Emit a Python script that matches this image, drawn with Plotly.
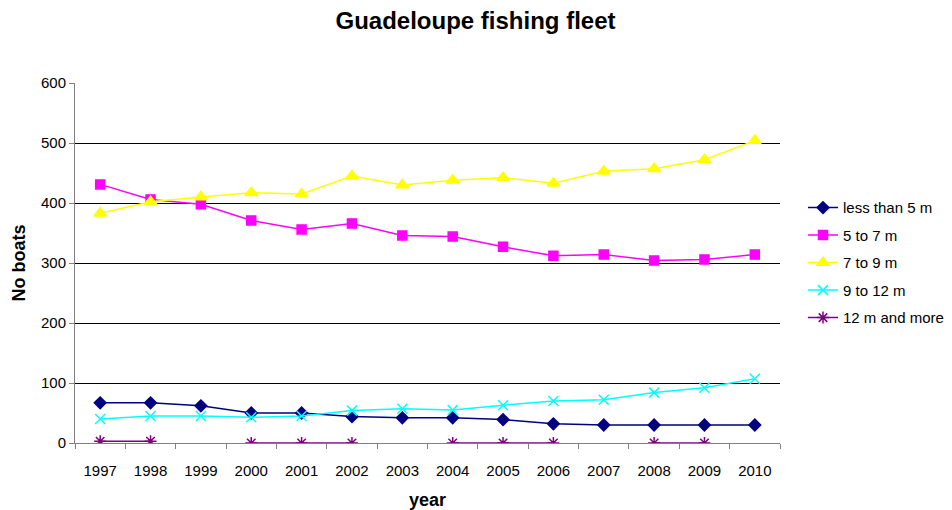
import plotly.graph_objects as go

years = ["1997", "1998", "1999", "2000", "2001", "2002", "2003", "2004", "2005", "2006", "2007", "2008", "2009", "2010"]
less_than_5 = [67, 67, 62, 50, 50, 44, 42, 42, 39, 32, 30, 30, 30, 30]
from_5_to_7 = [431, 406, 398, 371, 356, 366, 346, 344, 327, 312, 314, 304, 306, 314]
from_7_to_9 = [383, 402, 410, 417, 415, 445, 430, 438, 442, 433, 453, 457, 472, 504]
from_9_to_12 = [40, 45, 45, 43, 45, 54, 57, 55, 63, 70, 72, 84, 92, 107]
m12_and_more = [3, 3, None, 0, 0, 0, None, 0, 0, 0, None, 0, 0, None]

series = [
    ("less than 5 m", less_than_5, "#000080", "diamond", 9),
    ("5 to 7 m", from_5_to_7, "#FF00FF", "square", 9),
    ("7 to 9 m", from_7_to_9, "#FFFF00", "triangle-up", 11),
    ("9 to 12 m", from_9_to_12, "#00FFFF", "x-thin-open", 10),
    ("12 m and more", m12_and_more, "#800080", "asterisk-open", 10),
]

fig = go.Figure()
for name, vals, color, sym, size in series:
    fig.add_trace(go.Scatter(
        x=years, y=vals, name=name, mode="lines+markers",
        connectgaps=False, legendgroup=name,
        line=dict(color=color, width=1.5),
        marker=dict(symbol=sym, size=size, color=color,
                    line=dict(color=color, width=1.5)),
    ))

fig.update_layout(
    width=968, height=510,
    margin=dict(l=67, r=196, t=75, b=75, autoexpand=False),
    paper_bgcolor="white", plot_bgcolor="white",
    font=dict(family="Liberation Sans, Arial, sans-serif", size=15, color="black"),
    title=dict(text="<b>Guadeloupe fishing fleet</b>", x=0.483, xanchor="center",
               y=0.975, yanchor="middle", font=dict(size=24)),
    legend=dict(x=1.0326, y=0.699, xanchor="left", yanchor="top",
                font=dict(size=15), tracegroupgap=5, itemwidth=30,
                bgcolor="rgba(0,0,0,0)"),
    showlegend=True,
)
fig.update_xaxes(
    type="category", range=[-0.5, 13.5], tickson="boundaries",
    ticks="outside", ticklen=5, tickcolor="#808080",
    showline=True, linecolor="#808080", linewidth=1, automargin=False,
    showgrid=False, zeroline=False, ticklabelstandoff=14,
    title=dict(text="<b>year</b>", font=dict(size=18), standoff=15),
    tickfont=dict(size=15),
)
fig.update_yaxes(
    range=[0, 600], dtick=100, showgrid=True, gridcolor="black", gridwidth=1,
    ticks="outside", ticklen=5, tickcolor="#808080", automargin=False,
    showline=True, linecolor="#808080", linewidth=1, zeroline=False,
    title=dict(text="<b>No boats</b>", font=dict(size=18), standoff=10),
    tickfont=dict(size=15),
)

fig.write_html("out.html")
